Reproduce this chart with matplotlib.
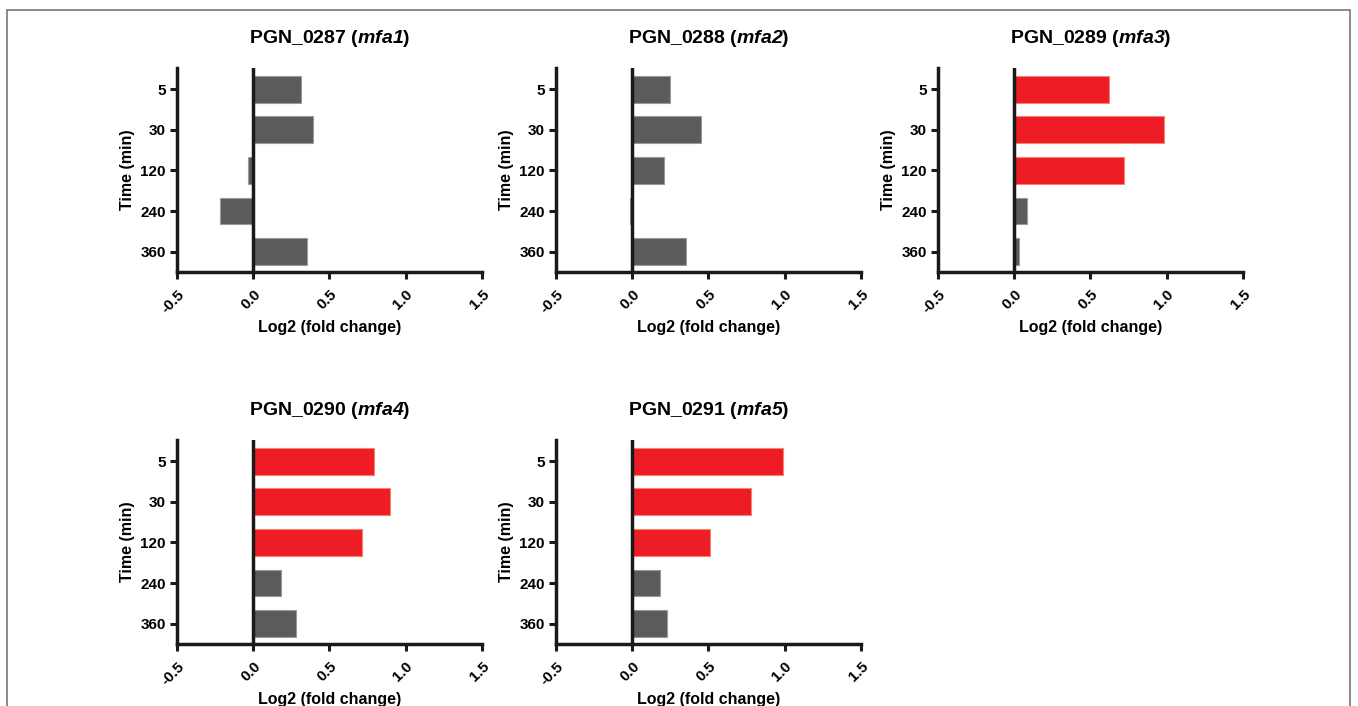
import matplotlib.pyplot as plt
from matplotlib.patches import Rectangle

plt.rcParams['font.family'] = ['Liberation Sans', 'DejaVu Sans']
plt.rcParams['mathtext.fontset'] = 'custom'
plt.rcParams['mathtext.it'] = 'Liberation Sans:italic:bold'
plt.rcParams['mathtext.rm'] = 'Liberation Sans:italic:bold'

times = ["5", "30", "120", "240", "360"]
genes = ["PGN_0287", "PGN_0288", "PGN_0289", "PGN_0290", "PGN_0291"]
names = ["mfa1", "mfa2", "mfa3", "mfa4", "mfa5"]

mfa1 = [0.315, 0.395, -0.035, -0.22, 0.35]
mfa2 = [0.25, 0.45, 0.21, -0.015, 0.355]
mfa3 = [0.62, 0.98, 0.72, 0.085, 0.033]
mfa4 = [0.79, 0.90, 0.715, 0.18, 0.28]
mfa5 = [0.99, 0.78, 0.51, 0.185, 0.23]
values = [mfa1, mfa2, mfa3, mfa4, mfa5]

# significant points drawn in red
signif = [
    [False] * 5,
    [False] * 5,
    [True, True, True, False, False],
    [True, True, True, False, False],
    [True, True, True, False, False],
]

xticks = [-0.5, 0.0, 0.5, 1.0, 1.5]

fig = plt.figure(figsize=(13.58, 7.06), dpi=100)
fig.patches.append(Rectangle((0.005, -0.02), 0.989, 1.006, transform=fig.transFigure,
                             fill=False, edgecolor='#777777', linewidth=1.2))

lefts = [0.1303, 0.4094, 0.6907, 0.1303, 0.4094]
bottoms = [0.6147, 0.6147, 0.6147, 0.0878, 0.0878]
w, h = 0.2246, 0.289

for i in range(5):
    ax = fig.add_axes([lefts[i], bottoms[i], w, h])
    cols = ['#ee1c24' if s else '#5b5b5b' for s in signif[i]]
    edges = ['#f6836f' if s else '#9a9a9a' for s in signif[i]]
    ax.barh(range(5), values[i], height=0.66, color=cols, edgecolor=edges, linewidth=0.8, zorder=2)
    ax.axvline(0, color='#1a1a1a', linewidth=2.5, zorder=3)
    ax.set_xlim(-0.5, 1.5)
    ax.set_ylim(4.5, -0.52)
    ax.set_yticks(range(5))
    ax.set_yticklabels(times, fontsize=11, fontweight='bold')
    ax.set_xticks(xticks)
    ax.set_xticklabels([f"{t:.1f}" for t in xticks], fontsize=11, fontweight='bold',
                       rotation=45, ha='right', rotation_mode='anchor')
    ax.spines['top'].set_visible(False)
    ax.spines['right'].set_visible(False)
    for s in ['left', 'bottom']:
        ax.spines[s].set_linewidth(2.5)
        ax.spines[s].set_color('#1a1a1a')
    ax.tick_params(axis='both', width=2.2, length=5, color='#1a1a1a', pad=3)
    ax.tick_params(axis='x', pad=6)
    ax.set_xlabel("Log2 (fold change)", fontsize=11.5, fontweight='bold', labelpad=3)
    ax.set_ylabel("Time (min)", fontsize=11.5, fontweight='bold', labelpad=4)
    ax.set_title(genes[i] + r" ($\mathit{" + names[i] + r"}$)", fontsize=14, fontweight='bold', pad=18)

fig.savefig("out.png", dpi=100)
